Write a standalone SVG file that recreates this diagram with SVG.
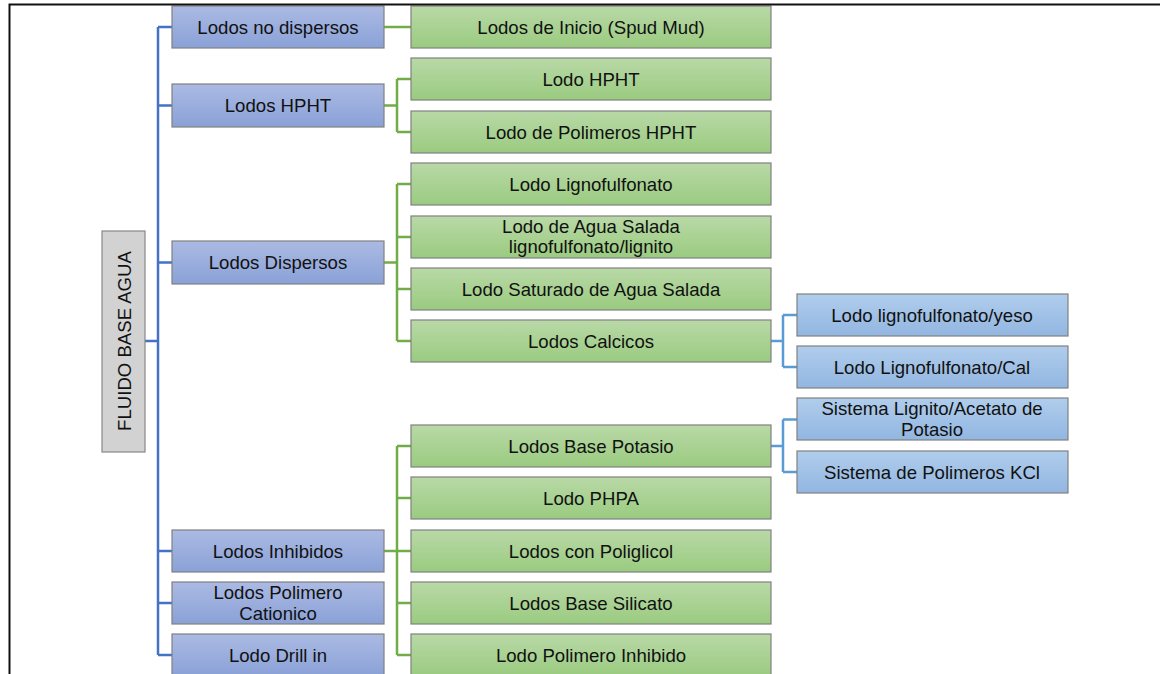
<svg xmlns="http://www.w3.org/2000/svg" width="1160" height="674" viewBox="0 0 1160 674">
<defs>
<linearGradient id="gB" x1="0" y1="0" x2="0" y2="1"><stop offset="0" stop-color="#abbae3"/><stop offset="1" stop-color="#8aa1d7"/></linearGradient>
<linearGradient id="gL" x1="0" y1="0" x2="0" y2="1"><stop offset="0" stop-color="#b0cdec"/><stop offset="1" stop-color="#92b6e1"/></linearGradient>
<linearGradient id="gG" x1="0" y1="0" x2="0" y2="1"><stop offset="0" stop-color="#b9d9a7"/><stop offset="1" stop-color="#9acb80"/></linearGradient>
</defs>
<style>
text{font-family:"Liberation Sans",Arial,sans-serif;font-size:18.6px;fill:#111;text-anchor:middle;dominant-baseline:central}
.b{fill:url(#gB);stroke:#808080;stroke-width:1.2}
.l{fill:url(#gL);stroke:#808080;stroke-width:1.2}
.g{fill:url(#gG);stroke:#808080;stroke-width:1.2}
.r{fill:#d2d2d2;stroke:#888;stroke-width:1.2}
.cb{stroke:#4472c4;stroke-width:2.5;fill:none}
.cg{stroke:#70ad47;stroke-width:2.5;fill:none}
.cl{stroke:#5b9bd5;stroke-width:2.5;fill:none}
</style>
<rect width="1160" height="674" fill="#fff"/>
<g id="connectors">
<path class="cb" d="M145,341H158M158,27V655M158,27H172M158,105.5H172M158,262.5H172M158,551H172M158,603H172M158,655H172"/>
<path class="cg" d="M384,27H411"/>
<path class="cg" d="M384,105.5H397M397,79V132M397,79H411M397,132H411"/>
<path class="cg" d="M384,262.5H397M397,184V341M397,184H411M397,237H411M397,289H411M397,341H411"/>
<path class="cg" d="M384,551H397M397,446V655M397,446H411M397,498H411M397,551H411M397,603H411M397,655H411"/>
<path class="cl" d="M771,341H783M783,315V367M783,315H797M783,367H797"/>
<path class="cl" d="M771,446H783M783,419.5V472M783,419.5H797M783,472H797"/>
</g>
<g id="root"><rect class="r" x="102" y="231" width="43" height="221"/><text transform="translate(124,341) rotate(-90)" font-size="20">FLUIDO BASE AGUA</text></g>
<g id="n-nodisp"><rect class="b" x="172" y="6" width="212" height="42"/><text x="278" y="27">Lodos no dispersos</text></g>
<g id="n-hpht"><rect class="b" x="172" y="84" width="212" height="43"/><text x="278" y="105.5">Lodos HPHT</text></g>
<g id="n-disp"><rect class="b" x="172" y="241" width="212" height="43"/><text x="278" y="262.5">Lodos Dispersos</text></g>
<g id="n-inhib"><rect class="b" x="172" y="530" width="212" height="42"/><text x="278" y="551">Lodos Inhibidos</text></g>
<g id="n-cation"><rect class="b" x="172" y="582" width="212" height="42"/><text x="278" y="592">Lodos Polimero</text><text x="278" y="613">Cationico</text></g>
<g id="n-drill"><rect class="b" x="172" y="634" width="212" height="42"/><text x="278" y="655">Lodo Drill in</text></g>
<g id="g-inicio"><rect class="g" x="411" y="6" width="360" height="42"/><text x="591" y="27">Lodos de Inicio (Spud Mud)</text></g>
<g id="g-hpht"><rect class="g" x="411" y="58" width="360" height="42"/><text x="591" y="79">Lodo HPHT</text></g>
<g id="g-polhpht"><rect class="g" x="411" y="111" width="360" height="42"/><text x="591" y="132">Lodo de Polimeros HPHT</text></g>
<g id="g-ligno"><rect class="g" x="411" y="163" width="360" height="42"/><text x="591" y="184">Lodo Lignofulfonato</text></g>
<g id="g-salada"><rect class="g" x="411" y="216" width="360" height="42"/><text x="591" y="226.5">Lodo de Agua Salada</text><text x="591" y="246.5">lignofulfonato/lignito</text></g>
<g id="g-saturado"><rect class="g" x="411" y="268" width="360" height="42"/><text x="591" y="289">Lodo Saturado de Agua Salada</text></g>
<g id="g-calcicos"><rect class="g" x="411" y="320" width="360" height="42"/><text x="591" y="341">Lodos Calcicos</text></g>
<g id="g-potasio"><rect class="g" x="411" y="425" width="360" height="42"/><text x="591" y="446">Lodos Base Potasio</text></g>
<g id="g-phpa"><rect class="g" x="411" y="477" width="360" height="42"/><text x="591" y="498">Lodo PHPA</text></g>
<g id="g-poliglicol"><rect class="g" x="411" y="530" width="360" height="42"/><text x="591" y="551">Lodos con Poliglicol</text></g>
<g id="g-silicato"><rect class="g" x="411" y="582" width="360" height="42"/><text x="591" y="603">Lodos Base Silicato</text></g>
<g id="g-polinhib"><rect class="g" x="411" y="634" width="360" height="42"/><text x="591" y="655">Lodo Polimero Inhibido</text></g>
<g id="l-yeso"><rect class="l" x="797" y="294" width="271" height="42"/><text x="932" y="315">Lodo lignofulfonato/yeso</text></g>
<g id="l-cal"><rect class="l" x="797" y="346" width="271" height="42"/><text x="932" y="367">Lodo Lignofulfonato/Cal</text></g>
<g id="l-acetato"><rect class="l" x="797" y="398" width="271" height="42"/><text x="932" y="408.5">Sistema Lignito/Acetato de</text><text x="932" y="429.5">Potasio</text></g>
<g id="l-kcl"><rect class="l" x="797" y="451" width="271" height="42"/><text x="932" y="472">Sistema de Polimeros KCl</text></g>
<path d="M9.5,674V4.5H1160" fill="none" stroke="#111" stroke-width="2"/>
</svg>
